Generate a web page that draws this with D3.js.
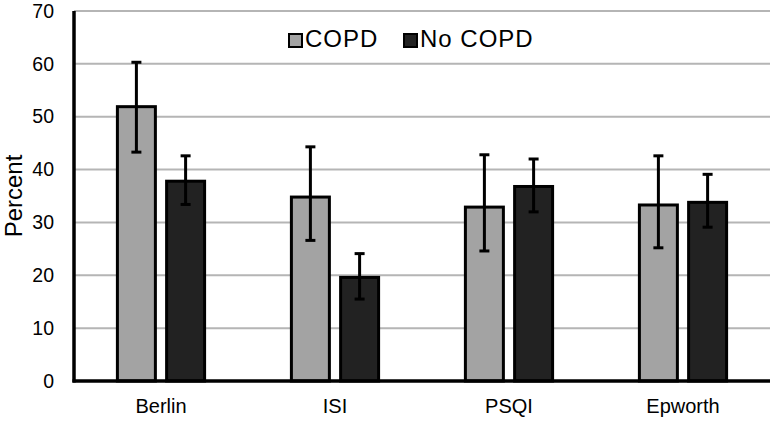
<!DOCTYPE html>
<html>
<head>
<meta charset="utf-8">
<script src="https://cdn.jsdelivr.net/npm/d3@7"></script>
<style>
  html, body { margin: 0; padding: 0; background: #fff; }
  svg { display: block; font-family: "Liberation Sans", Arial, sans-serif; }
</style>
</head>
<body>
<svg id="chart" width="773" height="421"></svg>
<script>
const categories = ["Berlin", "ISI", "PSQI", "Epworth"];
const seriesNames = ["COPD", "No COPD"];
const copdValues = [51.9, 34.8, 32.9, 33.3];
const copdHigh = [60.3, 44.3, 42.8, 42.6];
const copdLow = [43.3, 26.6, 24.6, 25.2];
const noCopdValues = [37.8, 19.6, 36.8, 33.8];
const noCopdHigh = [42.6, 24.1, 42.0, 39.1];
const noCopdLow = [33.4, 15.5, 32.0, 29.1];
const yTicks = [0, 10, 20, 30, 40, 50, 60, 70];
const seriesColors = ["#a3a3a3", "#222222"];

const series = [
  { name: seriesNames[0], values: copdValues, hi: copdHigh, lo: copdLow, color: seriesColors[0] },
  { name: seriesNames[1], values: noCopdValues, hi: noCopdHigh, lo: noCopdLow, color: seriesColors[1] }
];

const svg = d3.select("#chart");
const plotLeft = 74, plotRight = 770, plotTop = 11, plotBottom = 381;

const x0 = d3.scaleBand().domain(categories).range([plotLeft, plotRight]).padding(0);
const x1 = d3.scaleBand().domain(seriesNames).range([0, x0.bandwidth()])
  .paddingInner(0.228).paddingOuter(0.882);
const y = d3.scaleLinear().domain([0, 70]).range([plotBottom, plotTop]);

// gridlines
svg.append("g").selectAll("line").data(yTicks.filter(t => t > 0)).join("line")
  .attr("x1", plotLeft).attr("x2", plotRight)
  .attr("y1", d => y(d)).attr("y2", d => y(d))
  .attr("stroke", "#b5b5b5").attr("stroke-width", 2);

// y axis tick labels
const yAxis = d3.axisLeft(y).tickValues(yTicks).tickSize(0).tickPadding(20);
const gy = svg.append("g").attr("transform", `translate(${plotLeft},0)`).call(yAxis);
gy.select(".domain").remove();
gy.selectAll("text").attr("font-size", 19.5).attr("fill", "#000")
  .attr("font-family", "'Liberation Sans', Arial, sans-serif");

// bars
const flat = [];
series.forEach(s => categories.forEach((c, i) => flat.push({
  cat: c, s: s.name, v: s.values[i], hi: s.hi[i], lo: s.lo[i], color: s.color
})));

svg.append("g").selectAll("rect").data(flat).join("rect")
  .attr("x", d => x0(d.cat) + x1(d.s))
  .attr("width", x1.bandwidth())
  .attr("y", d => y(d.v))
  .attr("height", d => y(0) - y(d.v))
  .attr("fill", d => d.color)
  .attr("stroke", "#000").attr("stroke-width", 3);

// error bars
const eg = svg.append("g").selectAll("g").data(flat).join("g")
  .attr("transform", d => `translate(${x0(d.cat) + x1(d.s) + x1.bandwidth() / 2},0)`);
eg.append("line").attr("x1", 0).attr("x2", 0)
  .attr("y1", d => y(d.hi)).attr("y2", d => y(d.lo))
  .attr("stroke", "#000").attr("stroke-width", 3);
eg.append("line").attr("x1", -5).attr("x2", 5)
  .attr("y1", d => y(d.hi)).attr("y2", d => y(d.hi))
  .attr("stroke", "#000").attr("stroke-width", 3);
eg.append("line").attr("x1", -5).attr("x2", 5)
  .attr("y1", d => y(d.lo)).attr("y2", d => y(d.lo))
  .attr("stroke", "#000").attr("stroke-width", 3);

// axes lines
svg.append("line").attr("x1", plotLeft).attr("x2", plotLeft).attr("y1", plotTop).attr("y2", plotBottom + 1.5)
  .attr("stroke", "#000").attr("stroke-width", 3.5);
svg.append("line").attr("x1", plotLeft - 1.5).attr("x2", plotRight).attr("y1", plotBottom).attr("y2", plotBottom)
  .attr("stroke", "#000").attr("stroke-width", 3.5);

// x labels
const xAxis = d3.axisBottom(x0).tickSize(0).tickPadding(18);
const gx = svg.append("g").attr("transform", `translate(0,${plotBottom})`).call(xAxis);
gx.select(".domain").remove();
gx.selectAll("text").attr("font-size", 20).attr("fill", "#000")
  .attr("font-family", "'Liberation Sans', Arial, sans-serif");

// y title
svg.append("text").attr("transform", "translate(22,196) rotate(-90)")
  .attr("text-anchor", "middle").attr("font-size", 24).attr("fill", "#000")
  .text("Percent");

// legend
const legendX = [288, 403];
const lg = svg.append("g").selectAll("g").data(series).join("g")
  .attr("transform", (d, i) => `translate(${legendX[i]},33)`);
lg.append("rect").attr("x", 1).attr("y", 1).attr("width", 13).attr("height", 13)
  .attr("fill", d => d.color).attr("stroke", "#000").attr("stroke-width", 2);
lg.append("text").attr("x", 17).attr("y", 13.5).attr("font-size", 24)
  .attr("letter-spacing", 1).attr("fill", "#000").text(d => d.name);
</script>
</body>
</html>
